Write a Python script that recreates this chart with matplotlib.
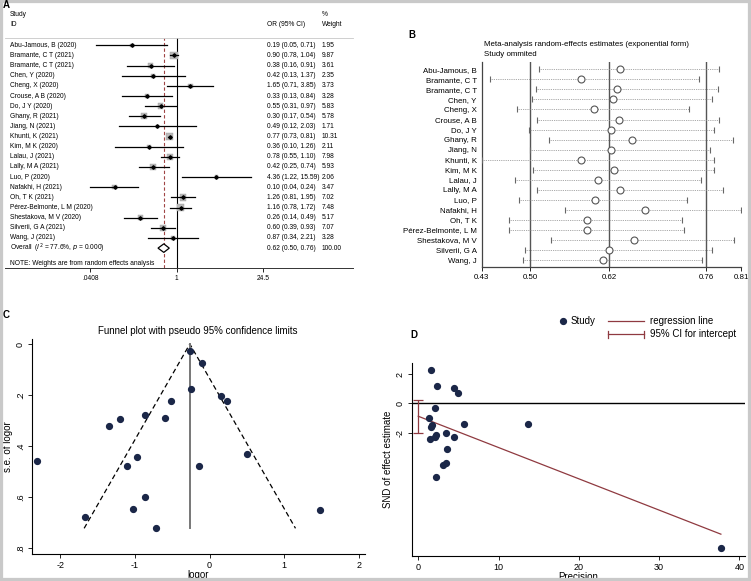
import matplotlib
matplotlib.use("Agg")
import matplotlib.pyplot as plt
import numpy as np
from matplotlib.patches import Polygon, Rectangle
from matplotlib.lines import Line2D
from matplotlib.transforms import blended_transform_factory

plt.rcParams['font.family'] = ['Liberation Sans', 'DejaVu Sans']

# ---- data: forest plot (panel A)
studies = ["Abu-Jamous, B (2020)", "Bramante, C T (2021)", "Bramante, C T (2021)",
           "Chen, Y (2020)", "Cheng, X (2020)", "Crouse, A B (2020)", "Do, J Y (2020)",
           "Ghany, R (2021)", "Jiang, N (2021)", "Khunti, K (2021)", "Kim, M K (2020)",
           "Lalau, J (2021)", "Lally, M A (2021)", "Luo, P (2020)", "Nafakhi, H (2021)",
           "Oh, T K (2021)", "Pérez-Belmonte, L M (2020)", "Shestakova, M V (2020)",
           "Silverii, G A (2021)", "Wang, J (2021)"]
odds = [0.19, 0.90, 0.38, 0.42, 1.65, 0.33, 0.55, 0.30, 0.49, 0.77,
        0.36, 0.78, 0.42, 4.36, 0.10, 1.26, 1.16, 0.26, 0.60, 0.87]
ci_lo = [0.05, 0.78, 0.16, 0.13, 0.71, 0.13, 0.31, 0.17, 0.12, 0.73,
         0.10, 0.55, 0.25, 1.22, 0.04, 0.81, 0.78, 0.14, 0.39, 0.34]
ci_hi = [0.71, 1.04, 0.91, 1.37, 3.85, 0.84, 0.97, 0.54, 2.03, 0.81,
         1.26, 1.10, 0.74, 15.59, 0.24, 1.95, 1.72, 0.49, 0.93, 2.21]
weights = [1.95, 9.87, 3.61, 2.35, 3.73, 3.28, 5.83, 5.78, 1.71, 10.31,
           2.11, 7.98, 5.93, 2.06, 3.47, 7.02, 7.48, 5.17, 7.07, 3.28]
overall = (0.62, 0.50, 0.76)
overall_weight = "100.00"
forest_ticks = [0.0408, 1, 24.5]
forest_ticklabels = [".0408", "1", "24.5"]

# ---- data: leave-one-out (panel B)
omitted = ["Abu-Jamous, B", "Bramante, C T", "Bramante, C T", "Chen, Y", "Cheng, X",
           "Crouse, A B", "Do, J Y", "Ghany, R", "Jiang, N", "Khunti, K", "Kim, M K",
           "Lalau, J", "Lally, M A", "Luo, P", "Nafakhi, H", "Oh, T K",
           "Pérez-Belmonte, L M", "Shestakova, M V", "Silverii, G A", "Wang, J"]
loo_est = [0.633, 0.576, 0.629, 0.622, 0.595, 0.631, 0.620, 0.650, 0.619, 0.576,
           0.624, 0.601, 0.632, 0.596, 0.669, 0.584, 0.585, 0.653, 0.616, 0.608]
loo_lo = [0.514, 0.442, 0.509, 0.503, 0.481, 0.511, 0.499, 0.528, 0.501, 0.430,
          0.505, 0.479, 0.511, 0.485, 0.552, 0.470, 0.470, 0.532, 0.494, 0.491]
loo_hi = [0.778, 0.748, 0.777, 0.768, 0.734, 0.778, 0.770, 0.799, 0.764, 0.771,
          0.770, 0.751, 0.783, 0.731, 0.810, 0.724, 0.727, 0.800, 0.767, 0.753]
loo_lines = [0.501, 0.617, 0.759]
loo_ticks = [0.43, 0.501, 0.617, 0.759, 0.81]
loo_ticklabels = ["0.43", "0.50", "0.62", "0.76", "0.81"]

# ---- derived: log odds and standard errors (panels C, D)
logor = np.log(odds)
se = (np.log(ci_hi) - np.log(ci_lo)) / (2 * 1.96)

W, H = 751, 581
fig = plt.figure(figsize=(W / 100, H / 100), dpi=100)
fig.patch.set_facecolor("white")


def px_axes(x0, y0, x1, y1):
    return fig.add_axes([x0 / W, 1 - y1 / H, (x1 - x0) / W, (y1 - y0) / H])


def fx(px):
    return px / W


def fy(py):
    return 1 - py / H


navy = "#1b2748"
maroon = "#8f3a40"

# ================= Panel A: forest plot
axA = px_axes(5, 38, 353, 267.7)
axA.set_xscale("log")
axA.set_xlim(np.exp((5 - 176.7) / 27), np.exp((353 - 176.7) / 27))
axA.set_ylim(21.93, -0.72)
rows = np.arange(len(studies))
for i in rows:
    axA.plot([ci_lo[i], ci_hi[i]], [i, i], color="black", lw=0.9, zorder=3)
axA.scatter(odds, rows, s=np.array(weights) * 2.9, marker="s", color="#b9b9b9",
            edgecolor="#a0a0a0", linewidth=0.3, zorder=2)
axA.plot(odds, rows, "D", color="black", ms=1.8, zorder=4)
orow = len(studies)
est, olo, ohi = overall
axA.add_patch(Polygon([(olo, orow), (est, orow - 0.42), (ohi, orow), (est, orow + 0.42)],
                      closed=True, facecolor="white", edgecolor="black", lw=0.9, zorder=4))
axA.axvline(1, color="black", lw=0.8, zorder=1)
axA.axvline(est, color="#a04545", lw=0.8, ls=(0, (3, 2)), zorder=1)
axA.set_xticks(forest_ticks)
axA.set_xticklabels(forest_ticklabels)
axA.xaxis.set_minor_locator(matplotlib.ticker.NullLocator())
axA.tick_params(axis="x", length=3, width=0.6, pad=2, labelsize=4.8)
axA.set_yticks([])
for s in ["left", "right"]:
    axA.spines[s].set_visible(False)
axA.spines["top"].set_color("#c8c8c8")
axA.spines["top"].set_linewidth(0.6)
axA.spines["bottom"].set_color("#333333")
axA.spines["bottom"].set_linewidth(0.7)
axA.patch.set_alpha(0)

tr = blended_transform_factory(axA.transAxes, axA.transData)
fsA = 4.8
xs_id = (10 - 5) / 348
xs_or = (267 - 5) / 348
xs_w = (322 - 5) / 348
for i in rows:
    axA.text(xs_id, i, studies[i], transform=tr, fontsize=fsA, va="center")
    axA.text(xs_or, i, f"{odds[i]:.2f} ({ci_lo[i]:.2f}, {ci_hi[i]:.2f})",
             transform=tr, fontsize=fsA, va="center")
    axA.text(xs_w, i, f"{weights[i]:.2f}", transform=tr, fontsize=fsA, va="center")
axA.text(xs_id, orow, r"Overall  ($I^2$ = 77.6%, $p$ = 0.000)", transform=tr,
         fontsize=fsA, va="center")
axA.text(xs_or, orow, f"{est:.2f} ({olo:.2f}, {ohi:.2f})", transform=tr,
         fontsize=fsA, va="center")
axA.text(xs_w, orow, overall_weight, transform=tr, fontsize=fsA, va="center")
axA.text(xs_id, orow + 1.5, "NOTE: Weights are from random effects analysis",
         transform=tr, fontsize=fsA, va="center")
fig.text(fx(10), fy(15), "Study", fontsize=fsA, va="center")
fig.text(fx(10), fy(25), "ID", fontsize=fsA, va="center")
fig.text(fx(267), fy(25), "OR (95% CI)", fontsize=fsA, va="center")
fig.text(fx(322), fy(14.5), "%", fontsize=fsA, va="center")
fig.text(fx(322), fy(25), "Weight", fontsize=fsA, va="center")
fig.text(fx(3), fy(5), "A", fontsize=7, fontweight="bold", va="center")

# ================= Panel B: leave-one-out
axB = px_axes(481.7, 61.7, 741, 266.7)
axB.set_xlim(0.43, 0.81)
axB.set_ylim(19.66, -0.76)
rb = np.arange(len(omitted))
for v in loo_lines:
    axB.axvline(v, color="#555555", lw=1.0, zorder=1)
for i in rb:
    axB.plot([loo_lo[i], loo_hi[i]], [i, i], color="#8a8a8a", lw=0.6,
             ls=(0, (1, 1.2)), zorder=2)
axB.plot(loo_lo, rb, "|", color="#666666", ms=4, mew=0.8, zorder=3)
axB.plot(loo_hi, rb, "|", color="#666666", ms=4, mew=0.8, zorder=3)
axB.plot(loo_est, rb, "o", mfc="white", mec="#555555", ms=5.0, mew=0.8, zorder=4)
axB.set_yticks(rb)
axB.set_yticklabels(omitted)
axB.tick_params(axis="y", length=0, pad=3.6, labelsize=5.7)
axB.set_xticks(loo_ticks)
axB.set_xticklabels(loo_ticklabels)
axB.tick_params(axis="x", length=3, width=0.6, pad=2, labelsize=5.7)
axB.spines["top"].set_visible(False)
axB.spines["right"].set_visible(False)
for s in ["left", "bottom"]:
    axB.spines[s].set_color("#444444")
    axB.spines[s].set_linewidth(0.9)
axB.patch.set_alpha(0)
fig.text(fx(484), fy(44), "Meta-analysis random-effects estimates (exponential form)",
         fontsize=5.7, va="center")
fig.text(fx(484), fy(54), "Study ommited", fontsize=5.7, va="center")
fig.text(fx(408), fy(35), "B", fontsize=7, fontweight="bold", va="center")

# ================= Panel C: funnel plot
axC = px_axes(31.7, 338.9, 365, 554)
axC.set_xlim(-2.38, 2.08)
axC.set_ylim(0.822, -0.02)
wfe = 1 / se ** 2
fe = np.sum(wfe * logor) / np.sum(wfe)
se_max = se.max()
axC.plot([fe - 1.96 * se_max, fe, fe + 1.96 * se_max], [se_max, 0, se_max],
         color="black", lw=0.9, ls=(0, (4, 2.5)))
axC.plot([fe, fe], [0, se_max], color="#777777", lw=1.4)
axC.plot(logor, se, "o", color=navy, ms=4.2, zorder=3)
axC.set_xticks([-2, -1, 0, 1, 2])
axC.set_xticklabels(["-2", "-1", "0", "1", "2"])
axC.set_yticks([0, 0.2, 0.4, 0.6, 0.8])
axC.set_yticklabels(["0", ".2", ".4", ".6", ".8"], rotation=90, va="center")
axC.tick_params(length=3, width=0.6, pad=2, labelsize=6.5)
axC.spines["top"].set_visible(False)
axC.spines["right"].set_visible(False)
axC.set_xlabel("logor", fontsize=7, labelpad=0)
axC.set_ylabel("s.e. of logor", fontsize=7, labelpad=2)
axC.patch.set_alpha(0)
fig.text(fx(197.5), fy(330.7), "Funnel plot with pseudo 95% confidence limits",
         fontsize=7, ha="center", va="center")
fig.text(fx(3), fy(315), "C", fontsize=7, fontweight="bold", va="center")

# ================= Panel D: Egger test
axD = px_axes(411.7, 363.3, 745, 556)
axD.set_xlim(-0.82, 40.7)
axD.set_ylim(-10.41, 2.73)
prec = 1 / se
snd = logor / se
b, a = np.polyfit(prec, snd, 1)
n = len(prec)
resid = snd - (a + b * prec)
s2 = np.sum(resid ** 2) / (n - 2)
se_a = np.sqrt(s2 * np.sum(prec ** 2) / (n * np.sum((prec - prec.mean()) ** 2)))
t18 = 2.101
axD.axhline(0, color="black", lw=1.0, zorder=1)
xr = np.array([0, prec.max()])
axD.plot(xr, a + b * xr, color=maroon, lw=0.9, zorder=2)
axD.errorbar([0], [a], yerr=[[t18 * se_a], [t18 * se_a]], color=maroon, lw=0.9,
             capsize=3.6, capthick=0.9, fmt="none", zorder=2)
axD.plot(prec, snd, "o", color=navy, ms=4.2, zorder=3)
axD.set_xticks([0, 10, 20, 30, 40])
axD.set_yticks([-2, 0, 2])
axD.set_yticklabels(["-2", "0", "2"], rotation=90, va="center")
axD.tick_params(length=3, width=0.6, pad=2, labelsize=6.5)
axD.spines["top"].set_visible(False)
axD.spines["right"].set_visible(False)
axD.set_xlabel("Precision", fontsize=7, labelpad=0)
axD.set_ylabel("SND of effect estimate", fontsize=7, labelpad=2)
axD.patch.set_alpha(0)
fig.text(fx(410), fy(335), "D", fontsize=7, fontweight="bold", va="center")

# legend for D (keys)
fig.add_artist(Line2D([fx(562.7)], [fy(320.7)], marker="o", color=navy, ms=4.2,
                      transform=fig.transFigure))
fig.text(fx(570.5), fy(320.7), "Study", fontsize=7, va="center")
fig.add_artist(Line2D([fx(608.3), fx(644.3)], [fy(320.7), fy(320.7)], color=maroon,
                      lw=0.9, transform=fig.transFigure))
fig.text(fx(650), fy(320.7), "regression line", fontsize=7, va="center")
fig.add_artist(Line2D([fx(608.3), fx(644.3)], [fy(334.3), fy(334.3)], color=maroon,
                      lw=0.9, transform=fig.transFigure))
for xx in (608.3, 644.3):
    fig.add_artist(Line2D([fx(xx), fx(xx)], [fy(330.8), fy(337.8)], color=maroon,
                          lw=0.9, transform=fig.transFigure))
fig.text(fx(650), fy(334.3), "95% CI for intercept", fontsize=7, va="center")

# outer frame
fig.add_artist(Rectangle((0, 0), 1, 1, transform=fig.transFigure, fill=False,
                         edgecolor="#c9c9c9", lw=4.5))

fig.savefig("out.png", dpi=100)
